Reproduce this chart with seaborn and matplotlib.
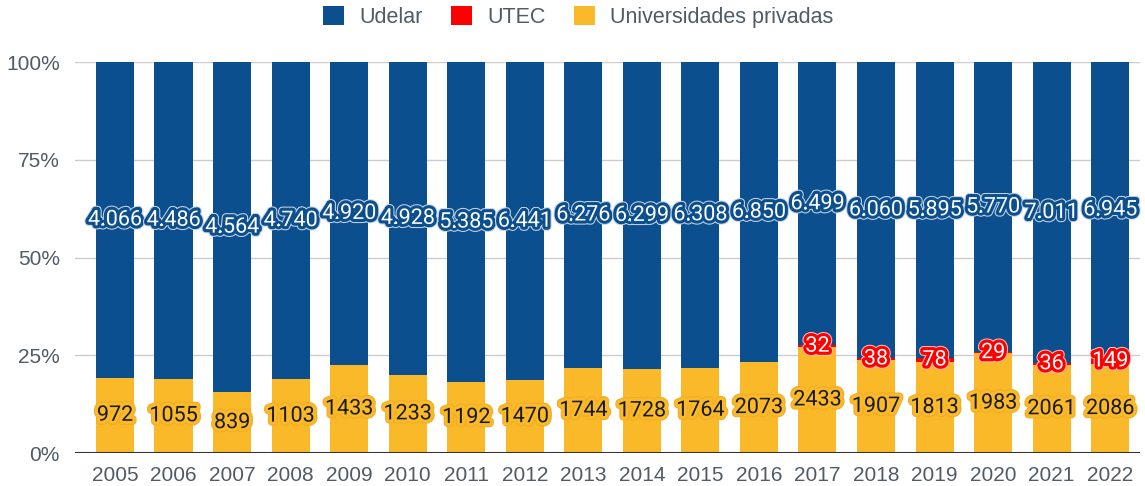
import pandas as pd
import matplotlib.pyplot as plt
import matplotlib.patheffects as pe
from matplotlib.patches import Patch
import seaborn as sns

# === Datos ===
years = [str(y) for y in range(2005, 2023)]
udelar = [4066, 4486, 4564, 4740, 4920, 4928, 5385, 6441, 6276, 6299, 6308, 6850,
          6499, 6060, 5895, 5770, 7011, 6945]
utec = [0, 0, 0, 0, 0, 0, 0, 0, 0, 0, 0, 0, 32, 38, 78, 29, 36, 149]
privadas = [972, 1055, 839, 1103, 1433, 1233, 1192, 1470, 1744, 1728, 1764, 2073,
            2433, 1907, 1813, 1983, 2061, 2086]
series = ["Udelar", "UTEC", "Universidades privadas"]

c_udelar = "#0c4f8f"
c_utec = "#ff0000"
c_priv = "#f9b929"
txt_col = "#4f5b66"

df = pd.DataFrame({"year": years, "Udelar": udelar, "UTEC": utec,
                   "Universidades privadas": privadas})
total = df[series].sum(axis=1)
df["f_priv"] = df["Universidades privadas"] / total
df["f_utec"] = df["f_priv"] + df["UTEC"] / total
df["f_all"] = df["f_utec"] + df["Udelar"] / total

sns.set_theme(style="white")
plt.rcParams["font.family"] = ["Liberation Sans", "DejaVu Sans"]

fig = plt.figure(figsize=(11.45, 4.86), dpi=100)
ax = fig.add_axes([75 / 1145, 33 / 486, 1065 / 1145, 391 / 486])

# Barras apiladas al 100% (capas superpuestas)
for col, color in [("f_all", c_udelar), ("f_utec", c_utec), ("f_priv", c_priv)]:
    sns.barplot(data=df, x="year", y=col, color=color, saturation=1,
                width=0.65, linewidth=0, ax=ax, zorder=2)

ax.set_xlim(-0.683, 17.51)
ax.set_ylim(0, 1)
ax.set_yticks([0, 0.25, 0.5, 0.75, 1.0])
ax.set_yticklabels(["0%", "25%", "50%", "75%", "100%"])
ax.grid(axis="y", color="#cccccc", linewidth=1, zorder=0)
ax.axhline(0, color="#333333", linewidth=1.5, zorder=3)
for s in ax.spines.values():
    s.set_visible(False)
ax.set_xlabel("")
ax.set_ylabel("")
ax.tick_params(axis="both", length=0, labelsize=15, labelcolor=txt_col)
ax.tick_params(axis="y", pad=11)
ax.tick_params(axis="x", pad=9)

# Etiquetas con halo
lab_font = ["Roboto", "DejaVu Sans"]
fs = 15.5
fx_udelar = [pe.Stroke(linewidth=6, foreground="#c4d3e4"),
             pe.Stroke(linewidth=4.5, foreground=c_udelar), pe.Normal()]
fx_priv = [pe.Stroke(linewidth=6, foreground="#f2ad25"),
           pe.Stroke(linewidth=4.5, foreground=c_priv), pe.Normal()]
fx_utec = [pe.Stroke(linewidth=6, foreground="#ffb8b8"),
           pe.Stroke(linewidth=4.5, foreground=c_utec), pe.Normal()]

for i, row in df.iterrows():
    ax.text(i, (row["f_utec"] + row["f_all"]) / 2,
            f"{row['Udelar']:,}".replace(",", "."), ha="center", va="center",
            fontsize=fs, color="white", family=lab_font,
            path_effects=fx_udelar, zorder=5)
    ax.text(i, row["f_priv"] / 2, f"{row['Universidades privadas']}",
            ha="center", va="center", fontsize=fs, color="#1a1a1a",
            family=lab_font, path_effects=fx_priv, zorder=5)
    if row["UTEC"] > 0:
        ax.text(i, (row["f_priv"] + row["f_utec"]) / 2, f"{row['UTEC']}",
                ha="center", va="center", fontsize=fs, color="white",
                family=lab_font, path_effects=fx_utec, zorder=6)

handles = [Patch(facecolor=c, edgecolor="none") for c in [c_udelar, c_utec, c_priv]]
fig.legend(handles, series, loc="center", bbox_to_anchor=(0.505, 1 - 17 / 486),
           ncol=3, frameon=False, fontsize=15.5, labelcolor=txt_col,
           handlelength=1.0, handleheight=1.0, handletextpad=0.7,
           columnspacing=1.3)

fig.savefig("out.png", dpi=100)
